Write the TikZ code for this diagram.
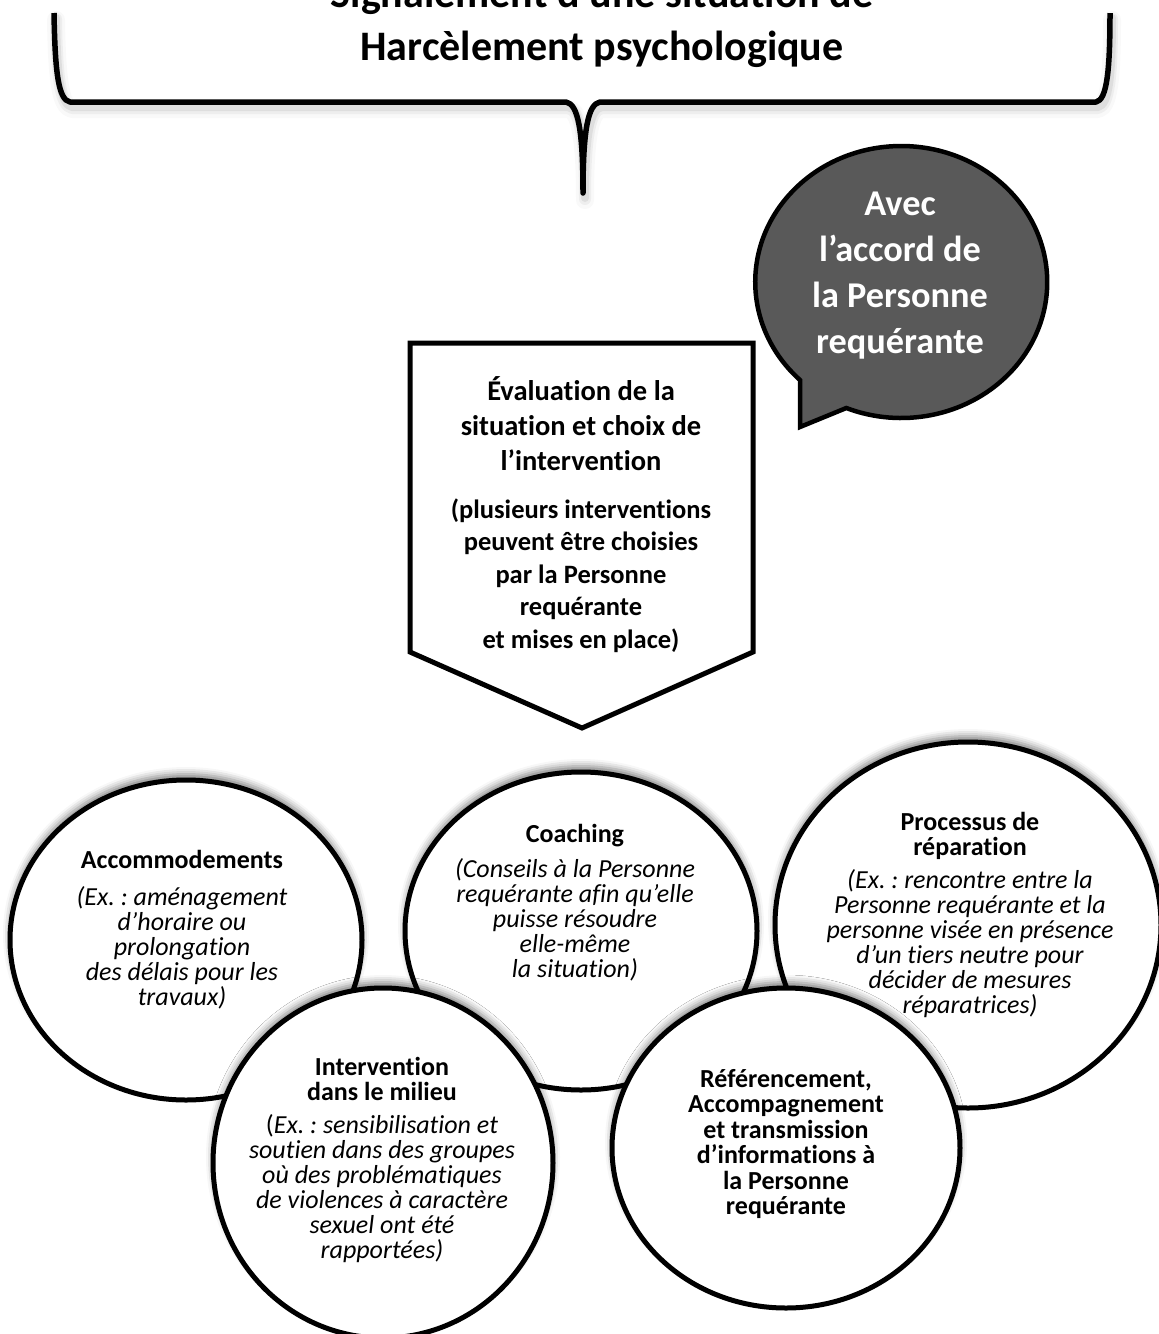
\documentclass[tikz,border=0pt]{standalone}
\usepackage{fontspec}
\setmainfont{Carlito}[Ligatures=NoCommon]
\usetikzlibrary{shapes.geometric,shadows.blur}

\definecolor{bubblegray}{HTML}{595959}
\newcommand\tstrutA{\rule{0pt}{40pt}}
\frenchspacing

\tikzset{
  braceline/.pic={
    \draw (54,13) .. controls (55,70) and (58,100) .. (70,102)
      -- (566,102) .. controls (578,104) and (583,130) .. (583,193)
      .. controls (583,130) and (588,104) .. (600,102)
      -- (1096,102) .. controls (1107,100) and (1110,70) .. (1110,13);
  },
  disc/.style={ellipse, draw=black, line width=5pt, fill=white, inner sep=0pt,
    blur shadow={shadow xshift=0pt, shadow yshift=6pt,
                 shadow blur radius=7pt, shadow opacity=50}},
  txt/.style={inner sep=0pt, align=center, anchor=north},
  titletxt/.style={txt, font=\fontsize{42}{53}\selectfont\bfseries},
  bubbletxt/.style={txt, text=white, font=\fontsize{36.3}{46}\selectfont\bfseries},
  evalhead/.style={txt, font=\fontsize{28.5}{35}\selectfont\bfseries},
  evalnote/.style={txt, font=\fontsize{26.5}{32.5}\selectfont\bfseries},
  bt/.style={txt, font=\fontsize{26}{25.5}\selectfont\bfseries},
  it/.style={txt, font=\fontsize{26}{25}\selectfont\itshape},
}

\begin{document}
\begin{tikzpicture}[x=1pt, y=-1pt, line join=round]
\lineskiplimit=-100pt
\useasboundingbox (0,0) rectangle (1159,1334);

% soft shadow of the brace, then the brace itself
\begin{scope}[line cap=round]
\pic[draw=gray, line width=18pt, opacity=.05] at (2,7) {braceline};
\pic[draw=gray, line width=12pt, opacity=.09] at (2,6) {braceline};
\pic[draw=gray, line width=8pt, opacity=.14] at (2,5) {braceline};
\end{scope}
\pic[draw=black, line width=5.5pt, line cap=butt] {braceline};

\node[titletxt] (title) at (602,-33)
  {\tstrutA Signalement d’une situation de\\Harcèlement psychologique};

% speech bubble
\draw[fill=bubblegray, line width=4.5pt, line join=miter]
  (800,380) arc[start angle=226.1, end angle=-112.1, x radius=146pt, y radius=136pt]
  -- (800,427) -- cycle;
\node[bubbletxt] (accord) at (900,175)
  {\tstrutA Avec\\l’accord de\\la Personne\\requérante};

% evaluation arrow
\draw[fill=white, line width=5pt, line join=miter]
  (410,343) -- (753,343) -- (753,652) -- (582,728) -- (410,652) -- cycle;
\node[evalhead] (eval-t) at (581,360)
  {\tstrutA Évaluation de la\\situation et choix de\\l’intervention};
\node[evalnote] (eval-d) at (581,478)
  {\tstrutA (plusieurs interventions\\peuvent être choisies\\par la Personne\\requérante\\et mises en place)};

% intervention discs, back row first
\node[disc, minimum width=352pt, minimum height=320pt] (acc) at (186,940) {};
\node[disc, minimum width=352pt, minimum height=318pt] (coach) at (581,931) {};
\node[disc, minimum width=386pt, minimum height=366pt] (repar) at (968,925) {};
\node[disc, minimum width=340pt, minimum height=350pt] (milieu) at (383,1163) {};
\node[disc, minimum width=348pt, minimum height=320pt] (refer) at (786,1148) {};

% disc texts
\node[bt] (acc-t) at (182,828) {\tstrutA Accommodements};
\node[it] (acc-d) at (182,865)
  {\tstrutA(Ex. : aménagement\\d’horaire ou\\prolongation\\des délais pour les\\travaux)};

\node[bt] (coach-t) at (575,802) {\tstrutA Coaching};
\node[it] (coach-d) at (575,837)
  {\tstrutA(Conseils à la Personne\\requérante afin qu’elle\\puisse résoudre\\elle-même\\la situation)};

\node[bt] (repar-t) at (970,790) {\tstrutA Processus de\\réparation};
\node[it] (repar-d) at (970,848)
  {\tstrutA(Ex. : rencontre entre la\\Personne requérante et la\\personne visée en présence\\d’un tiers neutre pour\\décider de mesures\\réparatrices)};

\node[bt] (milieu-t) at (382,1035) {\tstrutA Intervention\\dans le milieu};
\node[it] (milieu-d) at (382,1093)
  {\tstrutA{\upshape(}Ex. : sensibilisation et\\soutien dans des groupes\\où des problématiques\\de violences à caractère\\sexuel ont été\\rapportées)};

\node[bt] (refer-t) at (786,1047)
  {\tstrutA Référencement,\\Accompagnement\\et transmission\\d’informations à\\la Personne\\requérante};
\end{tikzpicture}
\end{document}
